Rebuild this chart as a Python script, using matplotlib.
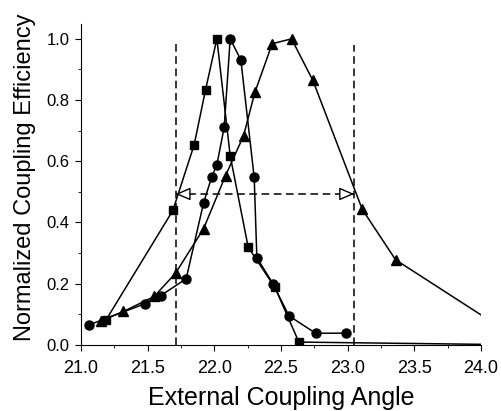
import matplotlib
matplotlib.use('Agg')
import matplotlib.pyplot as plt
from matplotlib.ticker import MultipleLocator

plt.rcParams['font.family'] = ['Liberation Sans', 'DejaVu Sans']

# square series
sq_x = [21.19, 21.69, 21.85, 21.935, 22.02, 22.12, 22.255, 22.455, 22.635, 24.3]
sq_y = [0.082, 0.439, 0.654, 0.833, 1.0, 0.618, 0.319, 0.188, 0.009, 0.0]

# circle series
ci_x = [21.06, 21.48, 21.6, 21.79, 21.92, 21.98, 22.02, 22.075, 22.12, 22.2,
        22.3, 22.32, 22.44, 22.56, 22.76, 22.985]
ci_y = [0.065, 0.134, 0.161, 0.216, 0.463, 0.547, 0.588, 0.711, 1.0, 0.931,
        0.547, 0.285, 0.2, 0.095, 0.038, 0.038]

# triangle series
tr_x = [21.15, 21.32, 21.55, 21.71, 21.92, 22.085, 22.22, 22.305, 22.435,
        22.58, 22.74, 23.11, 23.36, 24.0]
tr_y = [0.079, 0.109, 0.158, 0.234, 0.379, 0.553, 0.683, 0.825, 0.984,
        1.0, 0.864, 0.443, 0.278, 0.098]

# FWHM markers
fw_left = 21.71
fw_right = 23.05
fw_level = 0.493

fig = plt.figure(figsize=(5.02, 4.11), dpi=100)
ax = fig.add_axes([0.161, 0.161, 0.797, 0.781])

ax.plot(sq_x, sq_y, 'k-s', lw=1.1, ms=6, markevery=list(range(len(sq_x) - 1)))
ax.plot(ci_x, ci_y, 'k-o', lw=1.1, ms=6.5)
ax.plot(tr_x, tr_y, 'k-^', lw=1.1, ms=7, markevery=list(range(len(tr_x) - 1)))

ax.plot([fw_left, fw_left], [0, 0.986], 'k-', lw=1.1, dashes=(5, 3))
ax.plot([fw_right, fw_right], [0, 0.98], 'k-', lw=1.1, dashes=(5, 3))
ax.plot([fw_left, fw_right], [fw_level, fw_level], 'k-', lw=1.1, dashes=(5, 3))
head = dict(arrowstyle='-|>,head_length=0.7,head_width=0.3', lw=1.0,
            facecolor='white', edgecolor='black', mutation_scale=13,
            shrinkA=0, shrinkB=0)
ax.annotate('', xy=(fw_left, fw_level), xytext=(9.5, 0),
            textcoords='offset points', arrowprops=head)
ax.annotate('', xy=(fw_right, fw_level), xytext=(-9.5, 0),
            textcoords='offset points', arrowprops=head)

ax.set_xlim(21.0, 24.0)
ax.set_ylim(0, 1.049)
ax.xaxis.set_minor_locator(MultipleLocator(0.25))
ax.yaxis.set_minor_locator(MultipleLocator(0.1))
ax.set_xticks([21.0, 21.5, 22.0, 22.5, 23.0, 23.5, 24.0])
ax.set_xticklabels(['21.0', '21.5', '22.0', '22.5', '23.0', '23.5', '24.0'])
ax.set_yticks([0.0, 0.2, 0.4, 0.6, 0.8, 1.0])
ax.set_yticklabels(['0.0', '0.2', '0.4', '0.6', '0.8', '1.0'])

for s in ['top', 'right']:
    ax.spines[s].set_visible(False)
ax.tick_params(which='major', direction='out', length=4)
ax.tick_params(which='minor', direction='out', length=2.5)
ax.tick_params(axis='x', labelsize=13, pad=7)
ax.tick_params(axis='y', labelsize=12, pad=4)

ax.set_xlabel('External Coupling Angle', fontsize=18)
ax.set_ylabel('Normalized Coupling Efficiency', fontsize=17)
ax.xaxis.set_label_coords(0.5, -0.128)
ax.yaxis.set_label_coords(-0.112, 0.523)

fig.savefig('out.png', dpi=100)
